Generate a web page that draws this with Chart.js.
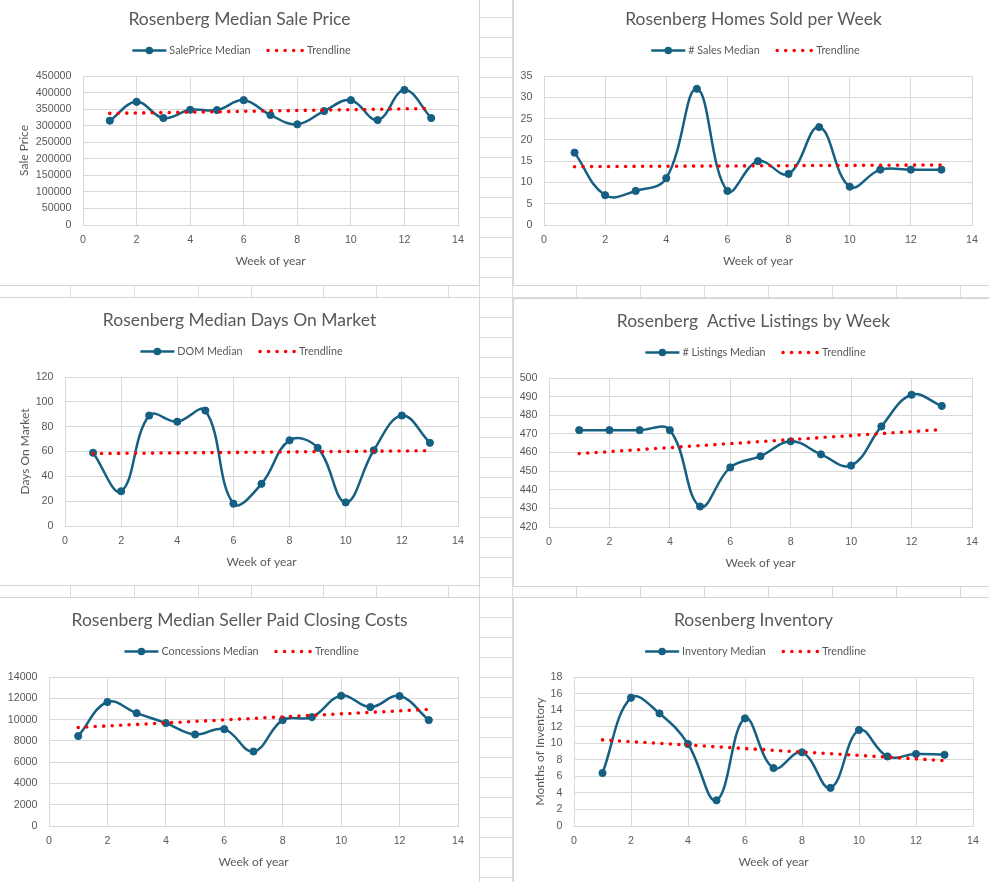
<!DOCTYPE html>
<html lang="en">
<head>
<meta charset="utf-8">
<title>Rosenberg weekly market stats</title>
<script src="https://cdn.jsdelivr.net/npm/chart.js@4.4.1/dist/chart.umd.min.js"></script>
<style>
  html, body { margin: 0; padding: 0; }
  body {
    width: 989px; height: 882px; overflow: hidden; position: relative; background: #fff;
    /* spreadsheet rows behind the charts */
    background-image: repeating-linear-gradient(to bottom, transparent 0 19px, #dcdcdc 19px 20px);
    background-position: 0 -2px;
  }
  .col { position: absolute; top: 0; width: 1px; height: 882px; background: #dcdcdc; }
  .box { position: absolute; background: #fff; border: 1px solid #d4d4d4; }
  .box canvas { display: block; }
</style>
</head>
<body>
<script>
// Weeks of year (x axis)
const weeks = [1, 2, 3, 4, 5, 6, 7, 8, 9, 10, 11, 12, 13];
const weekTicks = [0, 2, 4, 6, 8, 10, 12, 14];
// Trendline end points
const trendWeeks = [1, 13];

// Median sale price
const salePrice = [315000, 372000, 323000, 348000, 347000, 377000, 332000, 304000, 344000, 377000, 317000, 408000, 323000];
const salePriceTrend = [337000, 352000];
const salePriceTicks = [0, 50000, 100000, 150000, 200000, 250000, 300000, 350000, 400000, 450000];

// Homes sold per week
const homesSold = [17, 7, 8, 11, 32, 8, 15, 12, 23, 9, 13, 13, 13];
const homesSoldTrend = [13.7, 14.1];
const homesSoldTicks = [0, 5, 10, 15, 20, 25, 30, 35];

// Median days on market
const daysOnMarket = [59, 28, 89, 84, 93, 18, 34, 69, 63, 19, 61, 89, 67];
const daysOnMarketTrend = [58.3, 60.6];
const daysOnMarketTicks = [0, 20, 40, 60, 80, 100, 120];

// Active listings
const listings = [472, 472, 472, 472, 431, 452, 458, 466, 459, 453, 474, 491, 485];
const listingsTrend = [459.4, 472.3];
const listingsTicks = [420, 430, 440, 450, 460, 470, 480, 490, 500];

// Seller paid closing costs
const concessions = [8450, 11650, 10600, 9670, 8600, 9100, 7000, 9950, 10230, 12240, 11170, 12210, 9950];
const concessionsTrend = [9260, 10960];
const concessionsTicks = [0, 2000, 4000, 6000, 8000, 10000, 12000, 14000];

// Months of inventory
const inventory = [6.4, 15.5, 13.6, 9.9, 3.1, 13.0, 7.0, 8.9, 4.6, 11.6, 8.4, 8.7, 8.6];
const inventoryTrend = [10.4, 7.9];
const inventoryTicks = [0, 2, 4, 6, 8, 10, 12, 14, 16, 18];

// Styles
const seriesColor = '#156082';
const trendColor = '#ff0000';
const textColor = '#595959';
const gridColor = '#d9d9d9';
const CHART_W = 479;
const X_SCALE_H = 59;

// Spreadsheet column lines
[70, 134, 198, 251, 323, 376, 448, 479, 512, 576, 640, 704, 768, 832, 896, 960].forEach(x => {
    const col = document.createElement('div');
    col.className = 'col';
    col.style.left = x + 'px';
    document.body.appendChild(col);
});

/**
 * Title + Excel style legend, drawn above the plot area
 */
const excelHeader = {
    id: 'excelHeader',
    afterDraw(chart, args, opts) {
        const ctx = chart.ctx;
        const cx = chart.width / 2;
        const series = chart.data.datasets[0];
        const trend = chart.data.datasets[1];
        ctx.save();
        ctx.fillStyle = textColor;
        ctx.textBaseline = 'middle';

        // Title
        ctx.font = '17.5px Lato';
        ctx.textAlign = 'center';
        ctx.fillText(opts.title, cx, opts.titleY);

        // Legend
        ctx.font = '10.8px Lato';
        ctx.textAlign = 'left';
        const w1 = ctx.measureText(series.label).width;
        const w2 = ctx.measureText(trend.label).width;
        const total = 34 + 3 + w1 + 17.5 + 34 + 5 + w2;
        let x = cx + 2 - total / 2;
        const y = opts.legendY;

        // Line with marker
        ctx.strokeStyle = series.borderColor;
        ctx.lineWidth = series.borderWidth;
        ctx.beginPath();
        ctx.moveTo(x, y);
        ctx.lineTo(x + 34, y);
        ctx.stroke();
        ctx.fillStyle = series.borderColor;
        ctx.beginPath();
        ctx.arc(x + 17, y, 3.8, 0, Math.PI * 2);
        ctx.fill();
        x += 37;
        ctx.fillStyle = textColor;
        ctx.fillText(series.label, x, y);
        x += w1 + 17.5;

        // Dotted trendline
        ctx.strokeStyle = trend.borderColor;
        ctx.lineWidth = trend.borderWidth;
        ctx.lineCap = trend.borderCapStyle;
        ctx.setLineDash(trend.borderDash);
        ctx.beginPath();
        ctx.moveTo(x, y);
        ctx.lineTo(x + 34.5, y);
        ctx.stroke();
        ctx.setLineDash([]);
        x += 39;
        ctx.fillText(trend.label, x, y);
        ctx.restore();
    }
};

const charts = [
    { left: 0, top: -3, height: 288, plot: { left: 83, right: 458, top: 79, bottom: 228 },
      title: 'Rosenberg Median Sale Price', label: 'SalePrice Median', yTitle: 'Sale Price', yTitlePad: 17,
      values: salePrice, trend: salePriceTrend, ticks: salePriceTicks },
    { left: 514, top: -3, height: 288, plot: { left: 30, right: 458, top: 79, bottom: 228 },
      title: 'Rosenberg Homes Sold per Week', label: '# Sales Median', yTitle: null, yTitlePad: 0,
      values: homesSold, trend: homesSoldTrend, ticks: homesSoldTicks },
    { left: 0, top: 298, height: 287, plot: { left: 65, right: 458, top: 79, bottom: 228 },
      title: 'Rosenberg Median Days On Market', label: 'DOM Median', yTitle: 'Days On Market', yTitlePad: 17.5,
      values: daysOnMarket, trend: daysOnMarketTrend, ticks: daysOnMarketTicks },
    { left: 514, top: 299, height: 287, plot: { left: 35, right: 458, top: 79, bottom: 228 },
      title: 'Rosenberg  Active Listings by Week', label: '# Listings Median', yTitle: null, yTitlePad: 0,
      values: listings, trend: listingsTrend, ticks: listingsTicks },
    { left: 0, top: 598, height: 287, plot: { left: 49, right: 458, top: 79, bottom: 228 },
      title: 'Rosenberg Median Seller Paid Closing Costs', label: 'Concessions Median', yTitle: null, yTitlePad: 0,
      values: concessions, trend: concessionsTrend, ticks: concessionsTicks },
    { left: 514, top: 598, height: 287, plot: { left: 60, right: 459, top: 79, bottom: 228 },
      title: 'Rosenberg Inventory', label: 'Inventory Median', yTitle: 'Months of Inventory', yTitlePad: 18.8,
      values: inventory, trend: inventoryTrend, ticks: inventoryTicks }
];

charts.forEach(spec => {
    // Chart frame
    const box = document.createElement('div');
    box.className = 'box';
    box.style.left = (spec.left - 1) + 'px';
    box.style.top = (spec.top - 1) + 'px';
    box.style.width = CHART_W + 'px';
    box.style.height = spec.height + 'px';
    const canvas = document.createElement('canvas');
    canvas.width = CHART_W;
    canvas.height = spec.height;
    box.appendChild(canvas);
    document.body.appendChild(box);

    const p = spec.plot;
    const yTicks = spec.ticks;
    new Chart(canvas.getContext('2d'), {
        type: 'scatter',
        data: {
            datasets: [{
                label: spec.label,
                data: weeks.map((w, i) => ({ x: w, y: spec.values[i] })),
                showLine: true,
                borderColor: seriesColor,
                backgroundColor: seriesColor,
                borderWidth: 2.5,
                tension: 0.4,
                pointRadius: 3.6,
                pointBorderWidth: 1,
                pointBackgroundColor: seriesColor,
                pointBorderColor: seriesColor,
                order: 1
            }, {
                label: 'Trendline',
                data: trendWeeks.map((w, i) => ({ x: w, y: spec.trend[i] })),
                showLine: true,
                borderColor: trendColor,
                borderWidth: 3.6,
                borderDash: [0, 8.5],
                borderCapStyle: 'round',
                pointRadius: 0,
                order: 0
            }]
        },
        plugins: [excelHeader],
        options: {
            responsive: false,
            animation: false,
            layout: { padding: { left: 0, top: p.top, right: CHART_W - p.right, bottom: spec.height - p.bottom - X_SCALE_H } },
            plugins: {
                legend: { display: false },
                tooltip: { enabled: false },
                excelHeader: { title: spec.title, titleY: 22.5, legendY: 53.5 }
            },
            scales: {
                x: {
                    type: 'linear',
                    min: weekTicks[0],
                    max: weekTicks[weekTicks.length - 1],
                    afterFit: (scale) => { scale.height = X_SCALE_H; },
                    ticks: { stepSize: weekTicks[1] - weekTicks[0], color: textColor, padding: 8.5, maxRotation: 0, autoSkip: false,
                             font: { family: 'Liberation Sans', size: 10.7 } },
                    grid: { color: gridColor, drawTicks: false },
                    border: { color: gridColor },
                    title: { display: true, text: 'Week of year', color: textColor,
                             font: { family: 'Lato', size: 12 }, padding: { top: 0, bottom: 16 } }
                },
                y: {
                    type: 'linear',
                    min: yTicks[0],
                    max: yTicks[yTicks.length - 1],
                    afterFit: (scale) => { scale.width = p.left; },
                    ticks: { stepSize: yTicks[1] - yTicks[0], color: textColor, padding: 11.5, autoSkip: false,
                             font: { family: 'Liberation Sans', size: 10.7 },
                             callback: (v) => String(v) },
                    grid: { color: gridColor, drawTicks: false },
                    border: { color: gridColor },
                    title: { display: !!spec.yTitle, text: spec.yTitle || '', color: textColor,
                             font: { family: 'Lato', size: 12 }, padding: { top: spec.yTitlePad, bottom: 0 } }
                }
            }
        }
    });
});
</script>
</body>
</html>
